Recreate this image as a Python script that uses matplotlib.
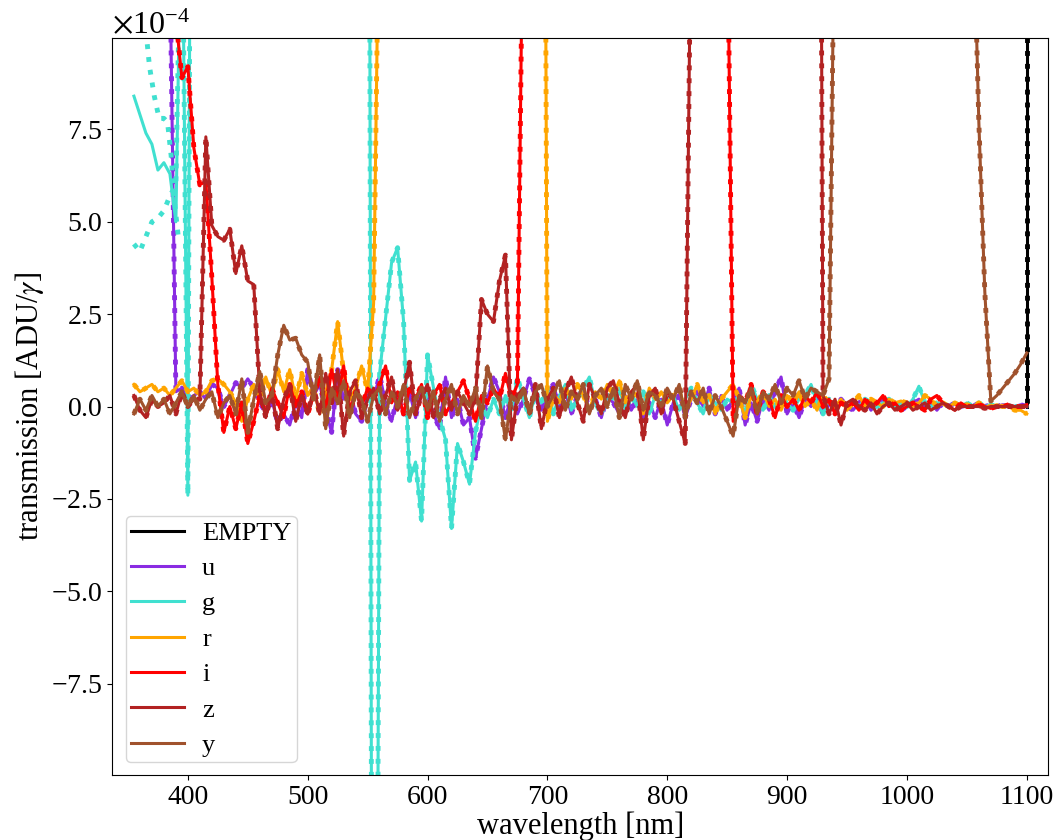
import numpy as np
import matplotlib
matplotlib.use('Agg')
import matplotlib.pyplot as plt
from matplotlib.ticker import MultipleLocator, ScalarFormatter

plt.rcParams['font.family'] = 'serif'
plt.rcParams['font.serif'] = ['Liberation Serif', 'DejaVu Serif']
plt.rcParams['mathtext.fontset'] = 'stix'
plt.rcParams['font.size'] = 21

# wavelength grid [nm], 5 nm sampling
wl = [355, 360, 365, 370, 375, 380, 385, 390, 395, 400,
      405, 410, 415, 420, 425, 430, 435, 440, 445, 450,
      455, 460, 465, 470, 475, 480, 485, 490, 495, 500,
      505, 510, 515, 520, 525, 530, 535, 540, 545, 550,
      555, 560, 565, 570, 575, 580, 585, 590, 595, 600,
      605, 610, 615, 620, 625, 630, 635, 640, 645, 650,
      655, 660, 665, 670, 675, 680, 685, 690, 695, 700,
      705, 710, 715, 720, 725, 730, 735, 740, 745, 750,
      755, 760, 765, 770, 775, 780, 785, 790, 795, 800,
      805, 810, 815, 820, 825, 830, 835, 840, 845, 850,
      855, 860, 865, 870, 875, 880, 885, 890, 895, 900,
      905, 910, 915, 920, 925, 930, 935, 940, 945, 950,
      955, 960, 965, 970, 975, 980, 985, 990, 995, 1000,
      1005, 1010, 1015, 1020, 1025, 1030, 1035, 1040, 1045, 1050,
      1055, 1060, 1065, 1070, 1075, 1080, 1085, 1090, 1095, 1100]

# transmission in units of 1e-4 ADU/gamma (40 = far above the plotted range)
u_val = [40, 40, 40, 40, 40, 40, 12, 0.4, 0.5, 0.2,
         0.3, 0.4, 0.2, 0.6, 0.5, 0.0, 0.3, 0.65, 0.5, 0.75,
         0.5, 0.1, -0.15, 0.2, -0.45, -0.2, -0.5, 0.1, -0.3, 1.0,
         0.3, 0.6, -0.1, -0.7, 1.0, 0.2, 0.5, -0.2, -0.4, 0.3,
         0.2, 0.85, 0.1, -0.4, 0.3, -0.2, 0.4, -0.3, 0.5, 0.2,
         -0.2, -0.6, 0.8, -0.3, 0.2, -0.5, -0.3, -1.4, -0.6, 0.2,
         0.8, 0.4, -0.3, 0.3, -0.2, 0.2, 0.75, 0.3, -0.1, 0.4,
         0.6, 0.0, 0.4, -0.2, 0.3, 0.5, -0.1, 0.2, -0.3, 0.3,
         0.1, -0.2, 0.3, -0.1, 0.2, -0.4, 0.1, -0.3, 0.2, -0.5,
         0.1, 0.3, -0.3, 0.2, 0.4, 0.0, 0.5, -0.2, 0.3, -0.1,
         0.2, 0.5, -0.5, 0.1, -0.4, 0.2, -0.1, 0.4, 0.8, -0.2,
         0.1, -0.3, 0.2, 0.0, 0.3, -0.2, 0.1, -0.1, 0.2, 0.0,
         -0.1, 0.1, 0.2, -0.1, 0.1, 0.2, 0.0, 0.1, -0.1, 0.0,
         0.1, 0.2, 0.0, 0.1, -0.1, 0.1, 0.0, 0.1, 0.0, 0.05,
         0.0, 0.1, 0.0, 0.05, 0.0, 0.05, 0.0, 0.0, 0.05, 0.0]

g_val = [8.4, 7.9, 7.4, 7.1, 6.4, 6.6, 6.3, 5.0, 15, -2.4,
         40, 40, 40, 40, 40, 40, 40, 40, 40, 40,
         40, 40, 40, 40, 40, 40, 40, 40, 40, 40,
         40, 40, 40, 40, 40, 40, 40, 40, 40, 40,
         -40, 0.9, 2.4, 3.9, 4.3, 2.3, -2.0, -1.5, -3.1, 1.4,
         0.5, -0.3, -0.9, -3.3, -1.0, -1.5, -2.1, -0.7, 0.1, -0.3,
         0.2, -0.2, 0.3, -0.1, 0.8, 0.2, -0.3, 0.4, 0.1, 0.5,
         -0.2, 0.3, 0.6, -0.1, 0.2, 0.5, 0.8, 0.1, -0.2, 0.3,
         0.2, 0.5, -0.1, 0.3, 0.0, 0.4, -0.2, 0.3, 0.1, 0.2,
         0.3, -0.1, 0.2, 0.5, 0.1, -0.2, 0.3, 0.1, -0.1, 0.2,
         0.1, 0.3, -0.2, 0.6, 0.2, -0.1, 0.3, 0.0, 0.2, 0.1,
         -0.1, 0.2, 0.3, 0.6, 0.1, -0.2, 0.2, 0.0, 0.1, 0.0,
         0.1, 0.0, 0.2, 0.1, 0.0, 0.1, 0.2, 0.0, 0.1, 0.0,
         0.2, 0.55, 0.1, 0.0, 0.1, 0.1, 0.0, 0.1, 0.0, 0.1,
         0.0, 0.1, 0.0, 0.05, 0.0, 0.0, 0.05, 0.0, 0.0, 0.0]

# second g measurement differs below 395 nm
g_dot_head = [4.4, 4.2, 4.6, 5.0, 5.1, 5.3, 5.7, 6.0]
g_dot_arm_wl = [364, 368, 372, 376, 380, 383, 386, 389, 392]
g_dot_arm_val = [10.5, 9.2, 8.4, 7.8, 7.8, 7.7, 6.8, 5.5, 4.6]

r_val = [0.6, 0.4, 0.5, 0.6, 0.4, 0.5, 0.3, 0.5, 0.7, 0.4,
         0.5, 0.3, 0.4, 0.7, 0.75, 0.6, 0.4, 0.1, -0.4, 0.2,
         0.6, 0.2, 0.8, 0.3, 1.0, 0.4, 1.0, 0.2, 0.9, 0.3,
         0.5, -0.2, 0.4, 1.0, 2.3, 0.9, 0.2, 0.5, 1.1, 0.4,
         2.8, 15, 40, 40, 40, 40, 40, 40, 40, 40,
         40, 40, 40, 40, 40, 40, 40, 40, 40, 40,
         40, 40, 40, 40, 40, 40, 40, 40, 40, -0.4,
         0.3, 0.1, 0.5, 0.2, 0.6, 0.3, -0.1, 0.4, 0.2, 0.6,
         0.3, 0.7, 0.1, 0.4, 0.3, -0.2, 0.5, 0.2, 0.4, 0.1,
         0.3, 0.5, -0.1, 0.2, 0.6, 0.1, 0.3, -0.2, 0.2, 0.4,
         0.6, 0.2, -0.3, 0.3, 0.1, 0.4, 0.0, 0.2, -0.1, 0.3,
         0.1, 0.4, 0.0, 0.2, -0.1, 0.3, 0.1, 0.0, 0.2, -0.1,
         0.1, 0.3, 0.0, 0.2, 0.1, 0.0, 0.2, 0.1, 0.15, 0.1,
         0.0, 0.1, 0.3, 0.2, 0.0, 0.1, 0.0, 0.1, 0.0, 0.05,
         0.0, 0.1, 0.0, 0.0, 0.05, 0.0, 0.0, -0.1, -0.1, -0.2]

i_val = [40, 40, 40, 40, 40, 40, 40, 10.5, 8.9, 9.2,
         7.0, 6.0, 6.1, 3.5, 0.6, -0.7, 0.0, -0.6, 0.1, -1.0,
         -0.4, 0.3, -0.2, 0.5, 0.1, -0.3, 0.6, 0.0, 0.4, -0.2,
         0.3, 0.8, -0.1, 1.0, 0.2, 1.1, -0.2, 0.4, 0.0, 0.5,
         0.2, 0.6, 1.1, 0.1, 0.4, -0.2, 0.5, 0.2, 0.6, -0.3,
         0.3, 0.6, -0.2, 0.1, 0.4, 0.7, 0.2, -0.4, 0.3, 0.1,
         0.5, 0.2, 0.9, 0.2, 0.6, 15, 40, 40, 40, 40,
         40, 40, 40, 40, 40, 40, 40, 40, 40, 40,
         40, 40, 40, 40, 40, 40, 40, 40, 40, 40,
         40, 40, 40, 40, 40, 40, 40, 40, 40, 14,
         -0.4, 0.3, 0.1, 0.6, -0.2, 0.4, 0.2, -0.3, 0.3, 0.0,
         0.2, -0.1, 0.3, 0.1, 0.4, 0.0, 0.2, -0.2, 0.1, 0.0,
         0.1, -0.1, 0.2, 0.0, 0.1, 0.3, 0.0, 0.1, -0.1, 0.0,
         0.1, 0.0, -0.1, 0.2, 0.3, 0.1, 0.0, -0.1, 0.1, 0.0,
         0.0, 0.05, 0.0, -0.05, 0.0, 0.0, 0.05, 0.0, 0.0, 0.05]

z_val = [0.3, -0.1, -0.3, 0.2, 0.0, 0.1, 0.3, -0.2, 0.4, 0.0,
         0.2, 0.2, 7.3, 4.9, 4.6, 4.5, 4.8, 3.6, 4.35, 3.4,
         3.3, 0.4, -0.3, 0.4, -0.6, 0.2, 0.6, -0.4, 0.3, -0.2,
         0.5, -0.2, 0.9, 0.1, 1.0, -0.8, 0.4, 0.7, -0.3, 0.2,
         0.5, -0.2, 0.3, 0.8, -0.1, 0.4, 1.2, -0.2, 0.3, 0.6,
         -0.3, 0.2, 0.5, -0.1, 0.4, 0.1, -0.2, 0.2, 2.9, 2.5,
         2.3, 3.4, 4.1, -0.9, 0.3, 0.5, -0.2, 0.6, -0.6, 0.2,
         0.5, -0.3, 0.4, 0.8, 0.1, -0.4, 0.6, 0.2, -0.2, 0.5,
         0.7, 0.1, -0.3, 0.4, 0.6, -0.9, 0.3, 0.5, -0.2, 0.4,
         0.2, -0.4, -1.0, 14, 40, 40, 40, 40, 40, 40,
         40, 40, 40, 40, 40, 40, 40, 40, 40, 40,
         40, 40, 40, 40, 40, 0.3, -0.2, 0.2, -0.5, 0.1,
         0.2, 0.0, -0.1, 0.1, -0.2, 0.0, 0.1, -0.1, 0.0, 0.1,
         -0.1, 0.0, 0.1, -0.1, 0.0, 0.1, 0.0, -0.1, 0.0, 0.0,
         0.0, 0.0, -0.05, 0.0, 0.0, 0.0, 0.0, 0.0, 0.0, 0.0]

y_val = [-0.2, 0.2, -0.1, 0.3, 0.0, 0.2, -0.2, 0.1, 0.4, 0.0,
         0.3, -0.1, 0.2, 0.4, -0.3, 0.1, 0.3, -0.2, 0.75, -0.7,
         0.2, 0.95, 0.1, 0.3, 1.4, 2.2, 1.8, 1.85, 1.4, 1.2,
         0.2, 1.4, -0.6, 0.5, 0.1, 0.7, -0.3, 0.4, 0.2, -0.4,
         0.3, 0.5, -0.2, 0.4, 0.0, 0.6, -0.3, 0.2, 0.5, -0.1,
         0.4, -0.4, 0.2, 0.6, -0.2, 0.3, 0.0, 0.5, -0.3, 1.1,
         0.4, 0.2, -0.9, 0.3, 0.1, 0.5, -0.2, 0.4, 0.6, 0.0,
         0.3, 0.7, -0.1, 0.4, 0.2, 0.6, -0.2, 0.3, 0.5, 0.0,
         0.5, -0.3, 0.6, 0.2, 0.7, -0.1, 0.4, 0.3, 0.0, 0.5,
         0.2, 0.6, -0.3, 0.4, 0.1, 0.5, -0.2, 0.3, 0.0, -0.4,
         -0.8, 0.3, 0.1, 0.5, -0.2, 0.4, 0.2, 0.6, 0.1, 0.5,
         0.3, 0.7, 0.2, 0.5, 0.4, 0.3, 0.75, 15, 40, 40,
         40, 40, 40, 40, 40, 40, 40, 40, 40, 40,
         40, 40, 40, 40, 40, 40, 40, 40, 40, 40,
         14, 7.7, 3.1, 0.15, 0.3, 0.5, 0.7, 0.9, 1.15, 1.45]

empty_wl = [355, 1100, 1100]
empty_val = [40, 40, 0]

filters = ['EMPTY', 'u', 'g', 'r', 'i', 'z', 'y']
colors = ['black', 'blueviolet', 'turquoise', 'orange', 'red', 'firebrick', 'sienna']

g_dot = g_dot_head + g_val[len(g_dot_head):]
curves_solid = [(empty_wl, empty_val), (wl, u_val), (wl, g_val), (wl, r_val),
                (wl, i_val), (wl, z_val), (wl, y_val)]
curves_dot = [(empty_wl, empty_val), (wl, u_val), (wl, g_dot), (wl, r_val),
              (wl, i_val), (wl, z_val), (wl, y_val)]

fig, ax = plt.subplots(figsize=(10.6, 8.4), dpi=100)
fig.subplots_adjust(left=0.106, right=0.989, bottom=0.077, top=0.955)

for k in range(len(filters)):
    lx, ly = curves_solid[k]
    ax.plot(lx, np.array(ly) * 1e-4, color=colors[k], lw=2.2, label=filters[k])
    lx, ly = curves_dot[k]
    ax.plot(lx, np.array(ly) * 1e-4, color=colors[k], lw=3.5, ls=':')
    if filters[k] == 'g':
        ax.plot(g_dot_arm_wl, np.array(g_dot_arm_val) * 1e-4, color=colors[k], lw=3.5, ls=':')

ax.set_xlim(337, 1118)
ax.set_ylim(-9.98e-4, 9.98e-4)
ax.yaxis.set_major_locator(MultipleLocator(2.5e-4))
fmt = ScalarFormatter(useMathText=True)
fmt.set_powerlimits((-3, 3))
ax.yaxis.set_major_formatter(fmt)
ax.yaxis.get_offset_text().set_fontsize(23)
ax.tick_params(labelsize=20)
ax.set_xlabel('wavelength [nm]', fontsize=22, labelpad=1)
ax.set_ylabel(r'transmission [ADU/$\gamma$]', fontsize=22)
ax.legend(loc='lower left', fontsize=19, borderpad=0.2, labelspacing=0.45,
          handletextpad=0.7, borderaxespad=0.5)

fig.savefig('out.png', dpi=100)
